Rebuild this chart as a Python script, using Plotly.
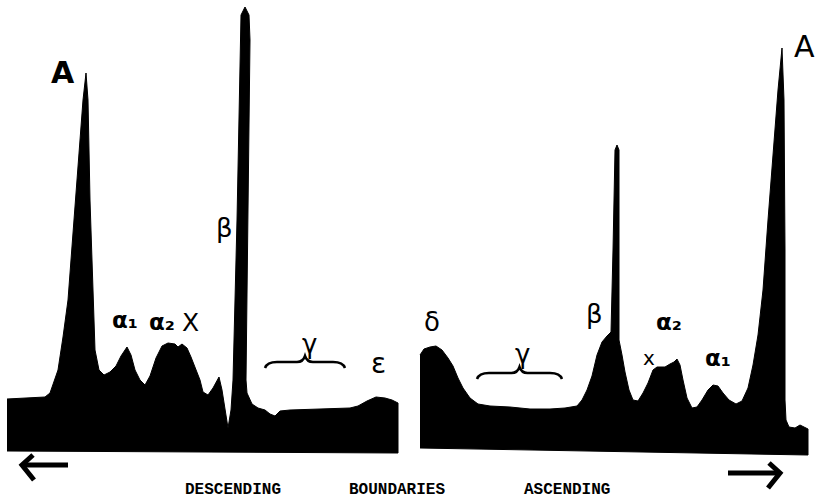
import plotly.graph_objects as go

# Electrophoretic pattern: descending and ascending boundaries.
# x = position along the cell, h = height of the gradient curve above the plate edge.

desc_x = [7, 45, 50, 58, 63, 68, 73, 78, 83, 86, 88, 90, 93, 95, 99, 104, 110, 116, 121, 127,
          131, 135, 140, 145, 150, 156, 162, 168, 175, 178, 182, 187, 191, 196, 200, 203, 208,
          213, 219, 222, 225, 228, 231, 233, 237, 240, 241, 245, 249, 250, 248, 246, 247, 252,
          258, 265, 270, 275, 280, 290, 320, 350, 358, 367, 376, 385, 392, 398]
desc_h = [101, 103, 107, 130, 163, 200, 267, 333, 400, 427, 400, 300, 200, 150, 130, 125, 128,
          134, 144, 153, 145, 130, 120, 115, 124, 142, 154, 157, 156, 153, 156, 152, 143, 130,
          120, 108, 105, 112, 123, 110, 90, 72, 90, 120, 280, 460, 485, 493, 485, 460, 280, 120,
          107, 96, 92, 90, 86, 84, 89, 90, 91, 92, 94, 99, 103, 102, 100, 97]
desc_base_x = [398, 7]
desc_base_h = [47, 49]

asc_x = [420, 424, 430, 436, 442, 448, 453, 458, 463, 470, 478, 490, 510, 530, 550, 565, 577,
         582, 587, 592, 597, 602, 607, 611, 613, 615, 617, 619, 619, 619, 622, 625, 629, 633,
         638, 643, 648, 653, 657, 665, 670, 674, 677, 680, 683, 687, 692, 697, 702, 708, 713,
         718, 723, 729, 736, 742, 748, 753, 758, 763, 768, 773, 778, 782, 784, 785, 785, 786,
         789, 795, 800, 804, 808]
asc_h = [145, 151, 153, 154, 150, 142, 134, 122, 112, 102, 96, 94, 93, 91, 91, 92, 94, 100,
         110, 124, 145, 158, 164, 168, 250, 350, 355, 350, 250, 160, 145, 128, 110, 100, 99,
         107, 117, 130, 133, 133, 136, 138, 141, 135, 120, 102, 92, 93, 100, 110, 115, 114, 107,
         100, 96, 99, 112, 135, 165, 210, 280, 350, 410, 452, 400, 250, 100, 80, 73, 72, 75, 73,
         71]
asc_base_x = [808, 420]
asc_base_h = [45, 52]

# Peak labels: text, x, h, font size, bold
peak_labels = [
    ("A", 63, 428, 30, True),
    ("α₁", 125, 180, 23, True),
    ("α₂", 162, 178, 23, True),
    ("X", 190, 178, 25, False),
    ("β", 224, 272, 26, False),
    ("γ", 309, 156, 26, False),
    ("ε", 378, 137, 28, False),
    ("δ", 432, 178, 26, False),
    ("γ", 522, 146, 26, False),
    ("β", 594, 186, 26, False),
    ("α₂", 669, 178, 23, True),
    ("x", 649, 142, 20, False),
    ("α₁", 718, 142, 23, True),
    ("A", 804, 454, 30, False),
]

# Spans marked by braces: x start, x end, h of the brace line
brace_spans = [(265, 345, 138), (477, 562, 127)]

# Direction arrows: tail x, head x, h
arrows = [(68, 22, 35), (728, 780, 27)]

bottom_labels = [("DESCENDING", 233), ("BOUNDARIES", 397), ("ASCENDING", 567)]

fig = go.Figure()
for xs, hs, bx, bh in [(desc_x, desc_h, desc_base_x, desc_base_h),
                       (asc_x, asc_h, asc_base_x, asc_base_h)]:
    fig.add_trace(go.Scatter(
        x=xs + bx, y=hs + bh, mode="lines", fill="toself",
        fillcolor="black", line=dict(color="black", width=1),
        hoverinfo="skip", showlegend=False))

for txt, x, h, size, bold in peak_labels:
    fig.add_annotation(
        x=x, y=h, text=f"<b>{txt}</b>" if bold else txt, showarrow=False,
        font=dict(family="DejaVu Sans", size=size, color="black"),
        xanchor="center", yanchor="middle")

for x0, x1, h in brace_spans:
    m = (x0 + x1) / 2
    path = (f"M {x0},{h-6} Q {x0+2},{h} {x0+12},{h} L {m-8},{h} "
            f"Q {m-2},{h} {m},{h+6} Q {m+2},{h} {m+8},{h} L {x1-12},{h} "
            f"Q {x1-2},{h} {x1},{h-6}")
    fig.add_shape(type="path", path=path, xref="x", yref="y",
                  line=dict(color="black", width=2.5))

for tail, head, h in arrows:
    d = 1 if head > tail else -1
    fig.add_shape(type="line", x0=tail, y0=h, x1=head, y1=h, xref="x", yref="y",
                  line=dict(color="black", width=5))
    fig.add_shape(type="path", xref="x", yref="y",
                  path=f"M {head-d*11},{h+10} L {head},{h} L {head-d*12},{h-15}",
                  line=dict(color="black", width=5))

for txt, x in bottom_labels:
    fig.add_annotation(
        x=x, y=10, text=f"<b>{txt}</b>", showarrow=False,
        font=dict(family="Liberation Mono", size=16, color="black"),
        xanchor="center", yanchor="middle")

fig.update_layout(
    width=815, height=500, margin=dict(l=0, r=0, t=0, b=0),
    paper_bgcolor="white", plot_bgcolor="white",
    xaxis=dict(range=[0, 815], visible=False, fixedrange=True),
    yaxis=dict(range=[0, 500], visible=False, fixedrange=True),
)

fig.write_html("out.html")
